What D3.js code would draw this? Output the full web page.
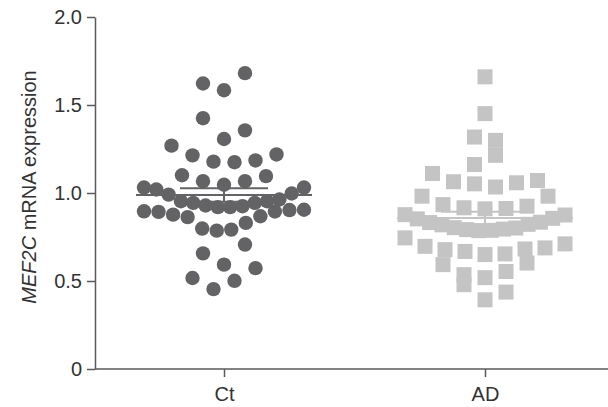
<!DOCTYPE html>
<html>
<head>
<meta charset="utf-8">
<script src="https://cdn.jsdelivr.net/npm/d3@7"></script>
<style>
  body { margin: 0; background: #fff; }
  text { font-family: "Liberation Sans", Arial, Helvetica, sans-serif; }
</style>
</head>
<body>
<svg id="chart" width="608" height="407"></svg>
<script>
// ---- data -------------------------------------------------------------
const groups = ["Ct", "AD"];

// MEF2C mRNA expression per sample (samples listed in table order)
const ctValues = [
  1.584, 1.622, 1.681,
  1.307, 1.425, 1.356,
  1.178, 1.175, 1.214, 1.185, 1.269, 1.219,
  1.047, 1.067, 1.067, 1.101, 1.096,
  0.920, 0.920, 0.929, 0.925, 0.944, 0.944, 0.953, 0.953, 0.991, 0.963, 1.020, 0.997, 1.031, 1.031,
  0.786, 0.792, 0.798, 0.830, 0.863, 0.868, 0.877, 0.895, 0.893, 0.903, 0.896, 0.905,
  0.593, 0.657, 0.707,
  0.454, 0.501, 0.517, 0.573
];

const adValues = [
  1.660,
  1.451,
  1.318, 1.299,
  1.162, 1.214,
  1.052, 1.034, 1.064, 1.058, 1.111, 1.071,
  0.910, 0.916, 0.912, 0.934, 0.925, 0.982, 0.982,
  0.786, 0.788, 0.792, 0.795, 0.803, 0.801, 0.819, 0.822, 0.832, 0.834, 0.853, 0.856, 0.877, 0.875,
  0.650, 0.668, 0.654, 0.678, 0.682, 0.697, 0.688, 0.745, 0.711,
  0.519, 0.536, 0.554, 0.593, 0.602,
  0.393, 0.479, 0.437
];

const yTicks = [0, 0.5, 1.0, 1.5, 2.0];
const yTickLabels = ["0", "0.5", "1.0", "1.5", "2.0"];

// ---- layout -----------------------------------------------------------
const plot = { left: 95, right: 608, top: 17, bottom: 369 };
const axisColor = "#5a5a5a";
const textColor = "#333333";
const ctColor = "#636366";
const adColor = "#c4c4c4";
const radius = 7.2;      // circle radius (Ct)
const squareSide = 15;   // square side (AD)

const svg = d3.select("#chart");

const y = d3.scaleLinear().domain([0, 2]).range([plot.bottom, plot.top]);
const x = d3.scalePoint().domain(groups).range([224, 485]);

// Scatter-dot spreading: values are binned into horizontal rows; inside a row
// the points are laid out from the centre outwards, alternating left/right.
const rowSpan = 0.121;   // value range gathered in one row
const maxSpread = 160;   // widest row, px
const maxStep = 21;      // gap between neighbours in sparse rows, px

function spread(values) {
  const order = d3.range(values.length).sort((a, b) => values[a] - values[b] || a - b);
  const rows = [];
  let cur = null;
  order.forEach(i => {
    if (!cur || values[i] - cur.start > rowSpan + 1e-9) {
      cur = { start: values[i], members: [] };
      rows.push(cur);
    }
    cur.members.push(i);
  });
  const offsets = new Array(values.length).fill(0);
  rows.forEach(r => {
    const m = r.members.slice().sort((a, b) => a - b);
    const n = m.length;
    const step = n > 1 ? Math.min(maxStep, maxSpread / (n - 1)) : 0;
    m.forEach((i, k) => {
      let slot;
      if (n % 2) slot = k === 0 ? 0 : Math.ceil(k / 2) * (k % 2 ? -1 : 1);
      else slot = (Math.floor(k / 2) + 0.5) * (k % 2 ? 1 : -1);
      offsets[i] = slot * step;
    });
  });
  return offsets;
}

const series = [
  { name: "Ct", values: ctValues, color: ctColor, shape: "circle" },
  { name: "AD", values: adValues, color: adColor, shape: "square" }
];

// ---- axes -------------------------------------------------------------
const yAxis = d3.axisLeft(y)
  .tickValues(yTicks)
  .tickFormat((d, i) => yTickLabels[i])
  .tickSize(8)
  .tickSizeOuter(0)
  .tickPadding(5);

const gy = svg.append("g")
  .attr("transform", `translate(${plot.left},0)`)
  .call(yAxis);
gy.select(".domain").attr("stroke", axisColor).attr("stroke-width", 1.5);
gy.selectAll(".tick line").attr("stroke", axisColor).attr("stroke-width", 1.5);
gy.selectAll(".tick text")
  .attr("fill", textColor)
  .style("font-size", "20px");

const xAxis = d3.axisBottom(x).tickSize(8).tickSizeOuter(0).tickPadding(10);
const gx = svg.append("g")
  .attr("transform", `translate(0,${y(0)})`)
  .call(xAxis);
gx.select(".domain").remove();
gx.append("line")
  .attr("x1", plot.left).attr("x2", plot.right)
  .attr("y1", 0).attr("y2", 0)
  .attr("stroke", axisColor).attr("stroke-width", 1.5);
gx.selectAll(".tick line").attr("stroke", axisColor).attr("stroke-width", 1.5);
gx.selectAll(".tick text")
  .attr("fill", textColor)
  .style("font-size", "20px");

// y-axis title
const title = svg.append("text")
  .attr("transform", `translate(36,187) rotate(-90)`)
  .attr("text-anchor", "middle")
  .attr("fill", textColor)
  .style("font-size", "20px");
title.append("tspan").style("font-style", "italic").text("MEF2C");
title.append("tspan").text(" mRNA expression");

// ---- points and mean ± SEM --------------------------------------------
series.forEach(s => {
  const cx = x(s.name);
  const offs = spread(s.values);
  const g = svg.append("g");

  if (s.shape === "circle") {
    g.selectAll("circle").data(s.values).join("circle")
      .attr("cx", (d, i) => cx + offs[i])
      .attr("cy", d => y(d))
      .attr("r", radius)
      .attr("fill", s.color);
  } else {
    g.selectAll("rect").data(s.values).join("rect")
      .attr("x", (d, i) => cx + offs[i] - squareSide / 2)
      .attr("y", d => y(d) - squareSide / 2)
      .attr("width", squareSide)
      .attr("height", squareSide)
      .attr("fill", s.color);
  }

  const mean = d3.mean(s.values);
  const sem = d3.deviation(s.values) / Math.sqrt(s.values.length);
  const lines = svg.append("g").attr("stroke", s.color).attr("stroke-width", 2);
  lines.append("line")
    .attr("x1", cx - 88).attr("x2", cx + 88)
    .attr("y1", y(mean)).attr("y2", y(mean));
  [mean - sem, mean + sem].forEach(v => {
    lines.append("line")
      .attr("x1", cx - 44).attr("x2", cx + 44)
      .attr("y1", y(v)).attr("y2", y(v));
  });
  lines.append("line")
    .attr("x1", cx).attr("x2", cx)
    .attr("y1", y(mean - sem)).attr("y2", y(mean + sem));
});
</script>
</body>
</html>
